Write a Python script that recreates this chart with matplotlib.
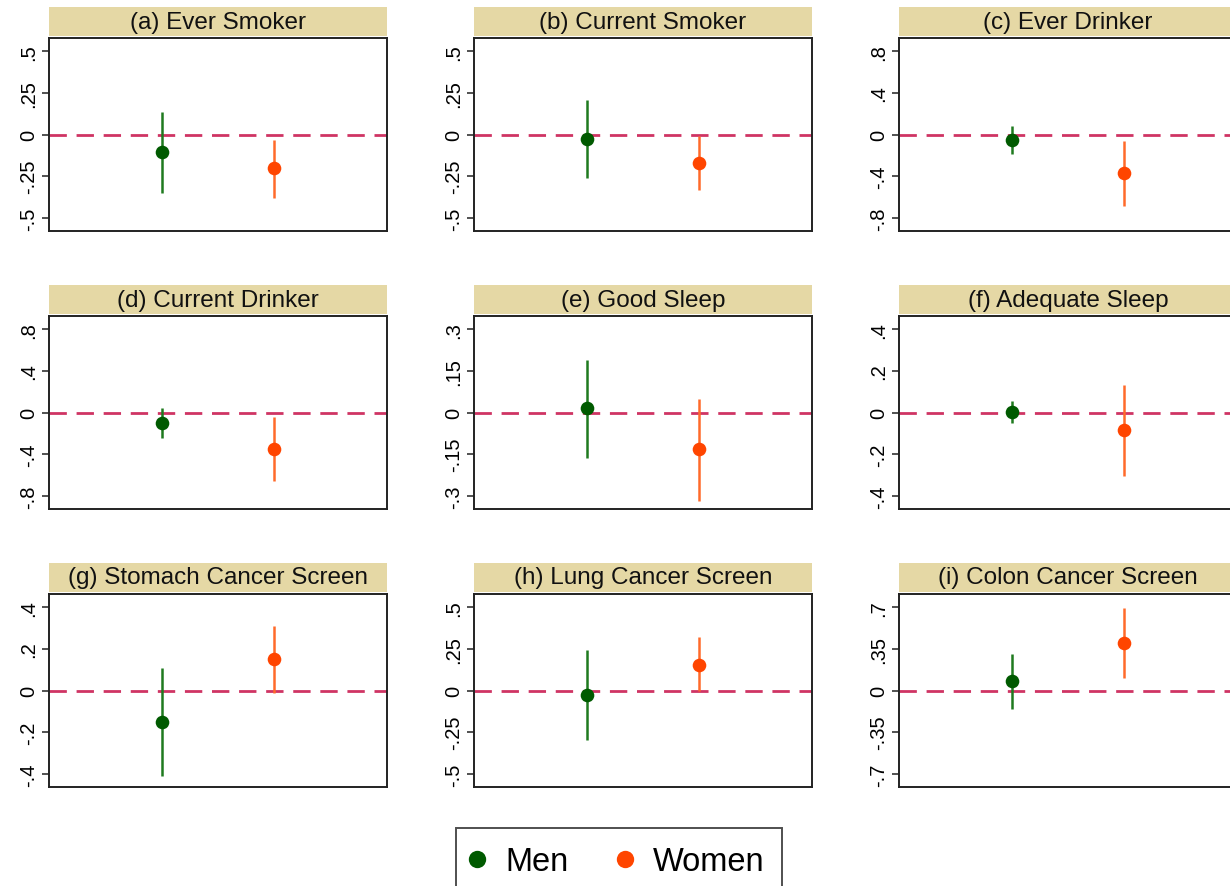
import matplotlib
matplotlib.use("Agg")
import matplotlib.pyplot as plt
from matplotlib.patches import Rectangle
from matplotlib.lines import Line2D

plt.rcParams['font.family'] = ['Liberation Sans', 'DejaVu Sans']
plt.rcParams['lines.scale_dashes'] = False

titles = ["(a) Ever Smoker", "(b) Current Smoker", "(c) Ever Drinker",
          "(d) Current Drinker", "(e) Good Sleep", "(f) Adequate Sleep",
          "(g) Stomach Cancer Screen", "(h) Lung Cancer Screen", "(i) Colon Cancer Screen"]

men_est = [-0.107, -0.026, -0.052, -0.103, 0.015, 0.002, -0.150, -0.026, 0.076]
men_lo = [-0.353, -0.258, -0.184, -0.242, -0.162, -0.048, -0.410, -0.296, -0.158]
men_hi = [0.135, 0.210, 0.084, 0.039, 0.189, 0.053, 0.109, 0.242, 0.308]

women_est = [-0.202, -0.171, -0.371, -0.348, -0.133, -0.085, 0.151, 0.155, 0.398]
women_lo = [-0.379, -0.335, -0.687, -0.655, -0.319, -0.304, -0.011, -0.004, 0.104]
women_hi = [-0.030, -0.010, -0.065, -0.039, 0.049, 0.131, 0.309, 0.319, 0.692]

tick_max = [0.5, 0.5, 0.8, 0.8, 0.3, 0.4, 0.4, 0.5, 0.7]
tick_labels = [
    ["-.5", "-.25", "0", ".25", ".5"],
    ["-.5", "-.25", "0", ".25", ".5"],
    ["-.8", "-.4", "0", ".4", ".8"],
    ["-.8", "-.4", "0", ".4", ".8"],
    ["-.3", "-.15", "0", ".15", ".3"],
    ["-.4", "-.2", "0", ".2", ".4"],
    ["-.4", "-.2", "0", ".2", ".4"],
    ["-.5", "-.25", "0", ".25", ".5"],
    ["-.7", "-.35", "0", ".35", ".7"],
]

groups = ["Men", "Women"]
marker_colors = ["#005a00", "#ff4500"]
line_colors = ["#1f7a1f", "#ff6a2a"]

W, H = 1230, 887
fig = plt.figure(figsize=(W / 100, H / 100), dpi=100)

col_left = [49, 474, 899]
row_top = [39, 317, 595]
ax_w, ax_h = 338, 193

for i in range(9):
    r, c = divmod(i, 3)
    left = col_left[c] / W
    bottom = 1 - (row_top[r] + ax_h) / H
    ax = fig.add_axes([left, bottom, ax_w / W, ax_h / H])
    m = tick_max[i]
    ax.set_xlim(0, 3)
    ax.set_ylim(-m * 1.158, m * 1.158)
    ax.axhline(0, color="#cf3464", lw=2.0, dashes=(12.5, 7.0), zorder=1)
    ests = [men_est[i], women_est[i]]
    los = [men_lo[i], women_lo[i]]
    his = [men_hi[i], women_hi[i]]
    for g in range(2):
        x = g + 1
        ax.vlines(x, los[g], his[g], color=line_colors[g], lw=1.8, zorder=2)
        ax.plot([x], [ests[g]], 'o', color=marker_colors[g], markersize=9.8,
                markeredgewidth=0, zorder=3)
    ticks = [-m, -m / 2, 0, m / 2, m]
    ax.set_yticks(ticks)
    ax.set_yticklabels(tick_labels[i], rotation=90, va='center', fontsize=14.5)
    ax.set_xticks([])
    ax.tick_params(axis='y', length=5, width=1.2, pad=3, color="#333333")
    for s in ax.spines.values():
        s.set_linewidth(1.4)
        s.set_color("#222222")
    # title bar
    bar_y0 = 1 + 2 / ax_h
    bar_h = 29 / ax_h
    ax.add_patch(Rectangle((0, bar_y0), 1, bar_h, transform=ax.transAxes,
                           facecolor="#e5d8a5", edgecolor="none", clip_on=False))
    ax.text(0.5, bar_y0 + bar_h / 2, titles[i], transform=ax.transAxes,
            ha='center', va='center', fontsize=17.5, color="#111111")

handles = [Line2D([], [], marker='o', linestyle='none', color=marker_colors[g],
                  markersize=12.5, markeredgewidth=0) for g in range(2)]
leg = fig.legend(handles, groups, loc='upper left',
                 bbox_to_anchor=(456 / W, 1 - 829 / H), ncol=2, fontsize=23.5,
                 frameon=True, fancybox=False, edgecolor="#222222",
                 handlelength=0.2, handletextpad=0.76, columnspacing=1.62,
                 borderpad=0.55, borderaxespad=0)
leg.get_frame().set_linewidth(1.4)

fig.savefig("out.png", dpi=100)
